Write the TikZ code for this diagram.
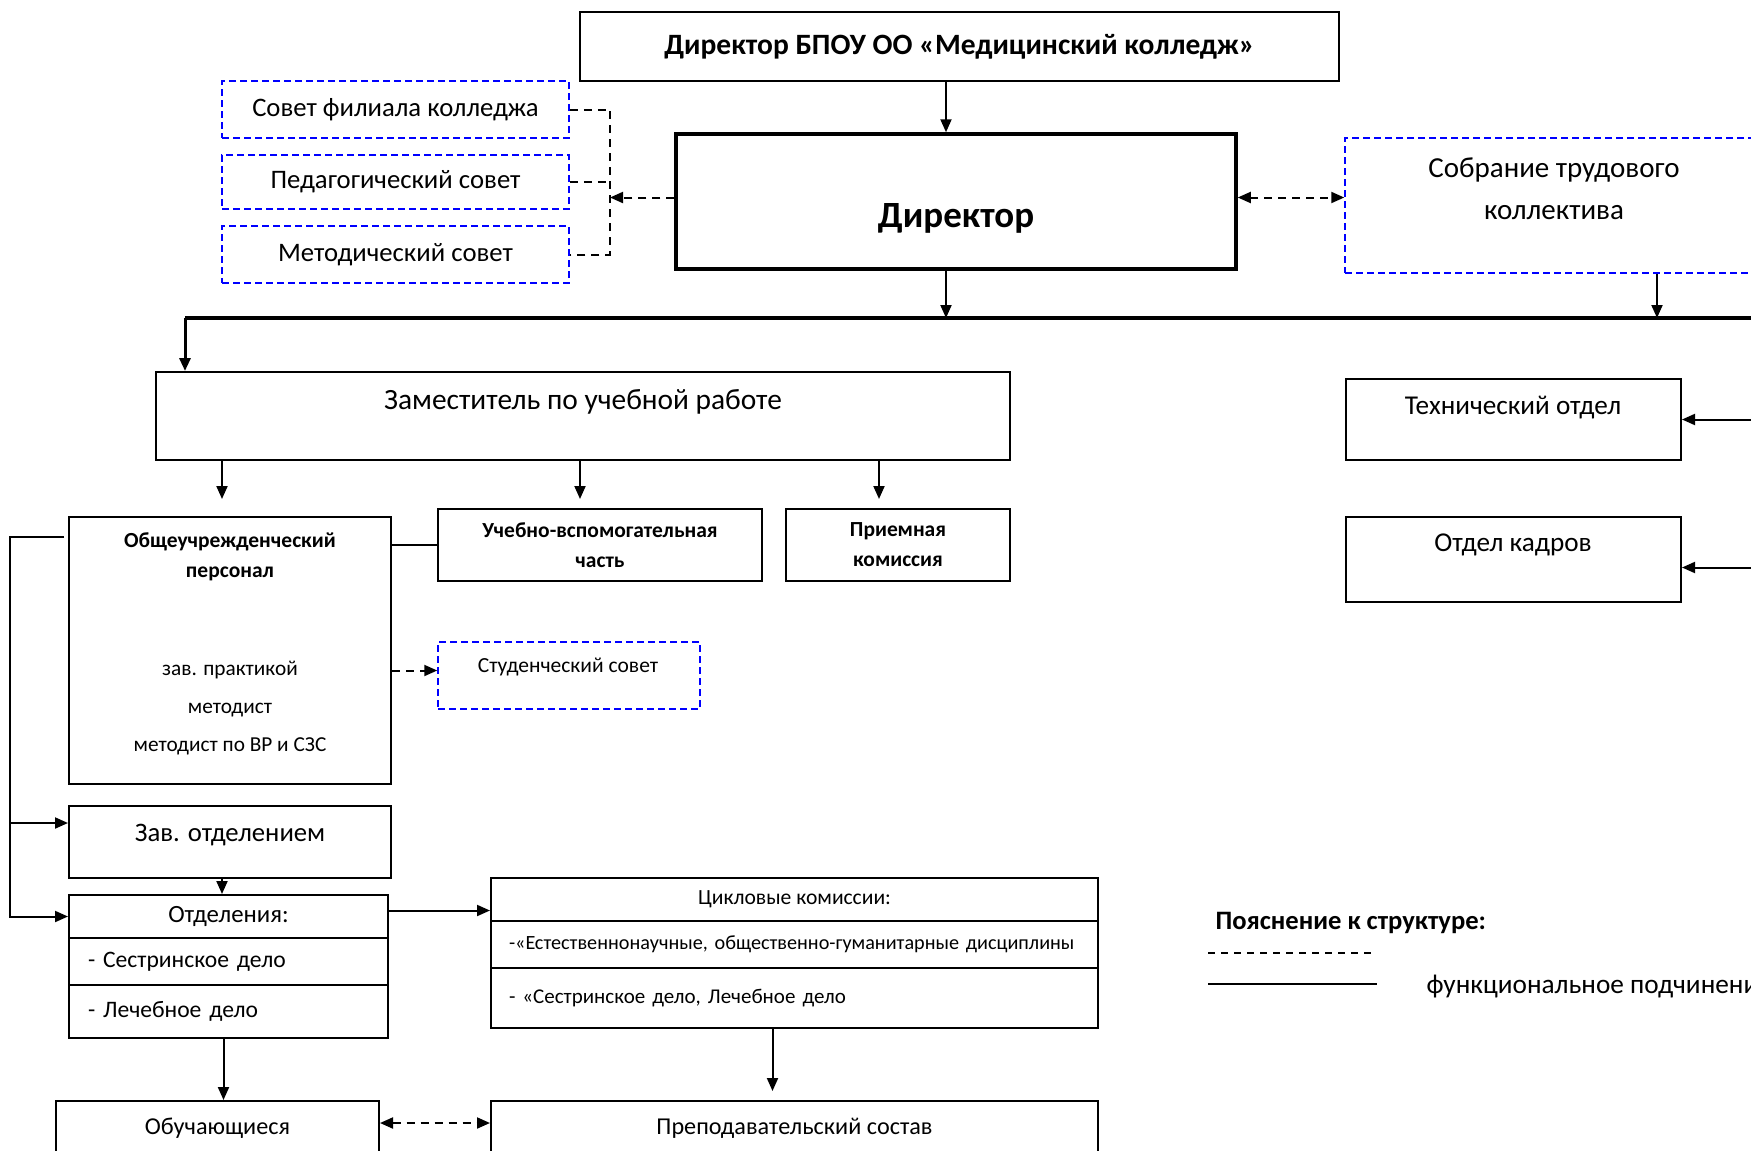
\documentclass[tikz,border=0pt]{standalone}
\usepackage{fontspec}
\setmainfont{Carlito}
\usetikzlibrary{arrows.meta}
\newcommand{\setfs}[1]{\fontsize{#1}{#1}\selectfont}
\begin{document}
\begin{tikzpicture}
   [x=1pt, y=-1pt, >={Triangle[length=13pt,width=11pt]},
    sz/.style 2 args={minimum width=#1pt, minimum height=#2pt},
    box/.style={draw, rectangle, line width=2pt, inner sep=0pt},
    dbox/.style={draw=blue, rectangle, line width=1.5pt, dash pattern=on 7pt off 4pt, inner sep=0pt},
    line/.style={line width=2pt},
    dline/.style={line width=2pt, dash pattern=on 8pt off 6pt}]
   \path[use as bounding box, clip] (0,0) rectangle (1751,1151);

   \node[box, sz={759}{69}, font=\setfs{29.5}\bfseries] (top) at (959.5,46.5) {Директор БПОУ ОО «Медицинский колледж»};
   \node[box, line width=3.5pt, sz={560}{135}] (dir) at (956,201.5) {};
   \node[font=\setfs{37}\bfseries] (dirt) at (956,218) {Директор};
   \node[dbox, sz={347}{57}, font=\setfs{26.7}] (s1) at (395.5,109.5) {Совет филиала колледжа};
   \node[dbox, sz={347}{54}, font=\setfs{26.7}] (s2) at (395.5,182) {Педагогический совет};
   \node[dbox, sz={347}{57}, font=\setfs{26.7}] (s3) at (395.5,254.5) {Методический совет};
   \node[dbox, sz={418}{135}] (sobr) at (1554,205.5) {};
   \node[font=\fontsize{29}{42}\selectfont, align=center] (sobrt) at (1554,189) {Собрание трудового\\коллектива};

   \node[box, sz={854}{88}] (zam) at (583,416) {};
   \node[font=\setfs{29.4}] (zamt) at (583,402) {Заместитель по учебной работе};
   \node[box, sz={322}{267}] (obsh) at (230,650.5) {};
   \node[font=\fontsize{21.5}{30}\selectfont\bfseries, align=center] (obsht) at (230,557) {Общеучрежденческий\\персонал};
   \node[font=\fontsize{21.3}{38}\selectfont, align=center] (obshl) at (230,708) {зав. практикой\\методист\\методист по ВР и СЗС};
   \node[box, sz={324}{72}, font=\fontsize{21.5}{30}\selectfont\bfseries, align=center] (uvch) at (600,545) {Учебно-вспомогательная\\часть};
   \node[box, sz={224}{72}, font=\fontsize{21.5}{30}\selectfont\bfseries, align=center] (priem) at (898,545) {Приемная\\комиссия};
   \node[dbox, sz={262}{67}] (stud) at (569,675.5) {};
   \node[font=\setfs{21.5}] (studt) at (568,667) {Студенческий совет};
   \node[box, sz={335}{81}] (tech) at (1513.5,419.5) {};
   \node[font=\setfs{27.2}] (techt) at (1513,408) {Технический отдел};
   \node[box, sz={335}{85}] (kadr) at (1513.5,559.5) {};
   \node[font=\setfs{27.2}] (kadrt) at (1513,545) {Отдел кадров};

   \node[box, sz={322}{72}] (zav) at (230,842) {};
   \node[font=\setfs{26.7}] (zavt) at (230,835) {Зав. отделением};
   \node[box, sz={319}{43}, font=\setfs{24.8}] (otd1) at (228.5,916.5) {Отделения:};
   \node[box, sz={319}{47}, font=\setfs{23.6}, text width=281pt, align=left] (otd2) at (228.5,961.5) {- Сестринское дело};
   \node[box, sz={319}{53}, font=\setfs{23.6}, text width=281pt, align=left] (otd3) at (228.5,1011.5) {- Лечебное дело};
   \node[box, sz={607}{43}, font=\setfs{21.6}] (c1) at (794.5,899.5) {Цикловые комиссии:};
   \node[box, sz={607}{47}, font=\setfs{20.2}, text width=571pt, align=left] (c2) at (794.5,944.5) {-«Естественнонаучные, общественно-гуманитарные дисциплины};
   \node[box, sz={607}{60}, font=\setfs{21}, text width=571pt, align=left] (c3) at (794.5,998) {- «Сестринское дело, Лечебное дело};
   \node[box, sz={323}{54}, font=\setfs{24.2}] (obuch) at (217.5,1128) {Обучающиеся};
   \node[box, sz={607}{54}, font=\setfs{24.2}] (prep) at (794.5,1128) {Преподавательский состав};

   \node[font=\setfs{26.6}\bfseries, anchor=west] (leg) at (1212,923) {Пояснение к структуре:};
   \draw[line width=1.2pt, dash pattern=on 7pt off 6pt] (1208,953) -- (1377,953);
   \draw[line width=1.5pt] (1208,984) -- (1377,984);
   \node[font=\setfs{27.3}, anchor=west] (legt) at (1423,987) {функциональное подчинение};

   \coordinate (brk) at (610,0);
   \coordinate (busL) at (185,318);
   \coordinate (busR) at (1760,318);
   \coordinate (lp) at (10,537);

   \draw[line, ->] ([xshift=-10pt]dir.north |- top.south) -- ([xshift=-10pt]dir.north);
   \draw[dline] (s1.east) -| (brk |- s3.east) -- (s3.east);
   \draw[dline] (s2.east) -- (s2.east -| brk);
   \draw[dline, ->] ([yshift=4pt]dir.west) -- ([yshift=4pt]dir.west -| brk);
   \draw[dline, <->] ([yshift=4pt]dir.east) -- ([yshift=4pt]dir.east -| sobr.west);
   \draw[line, ->] ([xshift=-10pt]dir.south) -- ([xshift=-10pt]dir.south |- busL);
   \draw[line, ->] ([xshift=103pt]sobr.south) -- ([xshift=103pt]sobr.south |- busL);
   \draw[line width=4pt] (busR) -- (busL);
   \draw[line width=3pt, ->] (busL) -- (busL |- zam.north);

   \draw[line, ->] ([xshift=-8pt]obsh.north |- zam.south) -- ([xshift=-8pt, yshift=17pt]obsh.north);
   \draw[line, ->] ([xshift=-20pt]uvch.north |- zam.south) -- ([xshift=-20pt, yshift=9pt]uvch.north);
   \draw[line, ->] ([xshift=-19pt]priem.north |- zam.south) -- ([xshift=-19pt, yshift=9pt]priem.north);
   \draw[line] (uvch.west) -- (uvch.west -| obsh.east);
   \draw[dline, ->] ([yshift=5pt]stud.west -| obsh.east) -- ([yshift=5pt]stud.west);
   \draw[line, ->] ([xshift=-4pt]lp -| obsh.west) -- (lp) |- (otd1.west);
   \draw[line, ->] ([yshift=19pt]zav.west -| lp) -- ([yshift=19pt]zav.west);
   \draw[line, ->] ([xshift=-8pt]zav.south) -- ([xshift=-8pt]zav.south |- otd1.north);
   \draw[line, ->] ([yshift=6pt]otd1.east) -- ([yshift=6pt]otd1.east -| c1.west);
   \draw[line, ->] ([xshift=-5pt]otd3.south) -- ([xshift=-5pt]otd3.south |- obuch.north);
   \draw[line, ->] ([xshift=-22pt]c3.south) -- ([xshift=-22pt, yshift=9pt]c3.south |- prep.north);
   \draw[dline, <->] ([yshift=5pt]obuch.east) -- ([yshift=5pt]obuch.east -| prep.west);
   \draw[line, ->] (tech.east -| busR) -- (tech.east);
   \draw[line, ->] ([yshift=-8pt]kadr.east -| busR) -- ([yshift=-8pt]kadr.east);
\end{tikzpicture}
\end{document}
